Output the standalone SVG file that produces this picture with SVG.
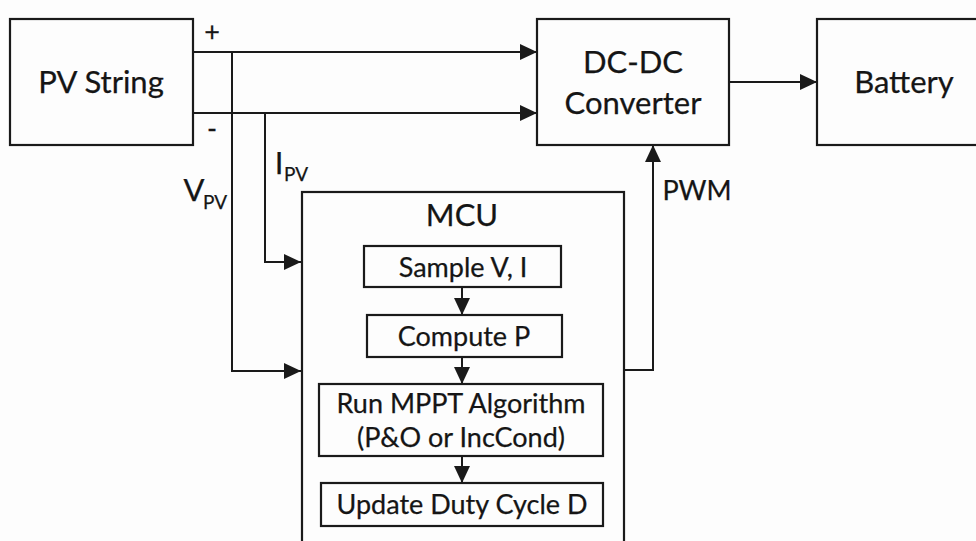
<svg xmlns="http://www.w3.org/2000/svg" width="976" height="541" viewBox="0 0 976 541">
  <style>
    .box { fill: none; stroke: #1a1a1a; stroke-width: 2.2; }
    .wire { fill: none; stroke: #1a1a1a; stroke-width: 2; }
    text { font-family: Lato, "Open Sans", sans-serif; fill: #151515; text-anchor: middle; stroke: #151515; stroke-width: 0.25; }
    .big { font-size: 31px; }
    .mid { font-size: 27px; }
    .sub { font-size: 19px; }
  </style>
  <defs>
    <marker id="arrow" markerUnits="userSpaceOnUse" markerWidth="18" markerHeight="18" refX="17" refY="8" orient="auto">
      <path d="M0,0 L17,8 L0,16 z" fill="#1a1a1a"/>
    </marker>
  </defs>
  <rect width="976" height="541" fill="#fdfdfd"/>

  <g id="connectors">
    <!-- PV string terminals to converter -->
    <line class="wire" x1="193" y1="52" x2="537" y2="52" marker-end="url(#arrow)"/>
    <line class="wire" x1="193" y1="113" x2="537" y2="113" marker-end="url(#arrow)"/>
    <!-- converter to battery -->
    <line class="wire" x1="729" y1="82" x2="817" y2="82" marker-end="url(#arrow)"/>
    <!-- voltage sense -->
    <polyline class="wire" points="232,52 232,371 301,371" marker-end="url(#arrow)"/>
    <!-- current sense -->
    <polyline class="wire" points="265,113 265,262 301,262" marker-end="url(#arrow)"/>
    <!-- PWM feedback -->
    <polyline class="wire" points="624,370 653,370 653,145" marker-end="url(#arrow)"/>
    <!-- MCU internal flow -->
    <line class="wire" x1="462" y1="287" x2="462" y2="315" marker-end="url(#arrow)"/>
    <line class="wire" x1="462" y1="357" x2="462" y2="384" marker-end="url(#arrow)"/>
    <line class="wire" x1="462" y1="456" x2="462" y2="483" marker-end="url(#arrow)"/>
  </g>

  <g id="labels">
    <text x="212" y="41" class="mid" font-size="30">+</text>
    <text x="212" y="138" class="mid" font-size="30">-</text>
    <text x="194" y="201" class="big">V</text>
    <text x="215" y="209" class="sub">PV</text>
    <text x="279" y="174" class="big">I</text>
    <text x="296" y="181" class="sub">PV</text>
    <text x="697" y="200" class="mid" font-size="30">PWM</text>
  </g>

  <g id="pv-string">
    <rect class="box" x="10" y="19" width="183" height="126"/>
    <text x="101" y="93" class="big">PV String</text>
  </g>

  <g id="dc-dc-converter">
    <rect class="box" x="537" y="19" width="192" height="126"/>
    <text x="633" y="73" class="big">DC-DC</text>
    <text x="633" y="114" class="big">Converter</text>
  </g>

  <g id="battery">
    <rect class="box" x="817" y="19" width="174" height="126"/>
    <text x="904" y="93" class="big">Battery</text>
  </g>

  <g id="mcu">
    <rect class="box" x="302" y="192" width="322" height="360"/>
    <text x="462" y="226" class="big" font-size="29">MCU</text>
  </g>

  <g id="sample">
    <rect class="box" x="364" y="246" width="197" height="41"/>
    <text x="463" y="277" class="mid" font-size="28">Sample V, I</text>
  </g>

  <g id="compute">
    <rect class="box" x="367" y="315" width="195" height="42"/>
    <text x="464" y="346" class="mid" font-size="28">Compute P</text>
  </g>

  <g id="mppt">
    <rect class="box" x="319" y="384" width="284" height="72"/>
    <text x="461" y="413" class="mid">Run MPPT Algorithm</text>
    <text x="461" y="447" class="mid">(P&amp;O or IncCond)</text>
  </g>

  <g id="update">
    <rect class="box" x="321" y="483" width="282" height="43"/>
    <text x="462" y="514" class="mid">Update Duty Cycle D</text>
  </g>
</svg>
